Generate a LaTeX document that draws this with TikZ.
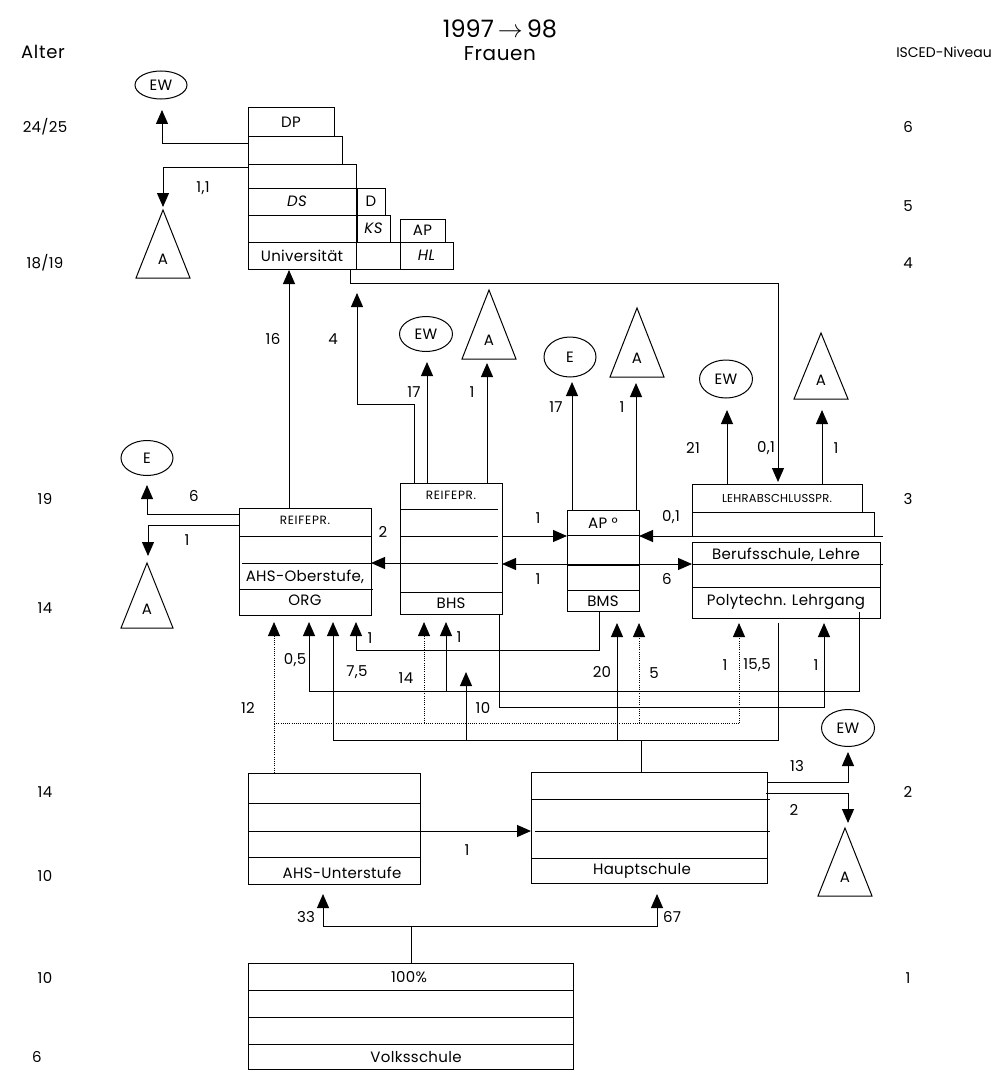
\documentclass[tikz,border=0pt]{standalone}
\usepackage{fontspec}
\setmainfont{Poppins}
\usetikzlibrary{arrows.meta,shapes.geometric}
\tikzset{
  ln/.style={line width=1pt},
  arr/.style={line width=1pt,-{Triangle[length=14pt,width=12pt]}},
  darr/.style={line width=1pt,{Triangle[length=14pt,width=12pt]}-{Triangle[length=14pt,width=12pt]}},
  dotl/.style={line width=0.9pt,dash pattern=on 1pt off 1.2pt},
  box/.style={draw,line width=1pt,rectangle,inner sep=0pt,outer sep=0pt},
  ell/.style={draw,ellipse,line width=1pt,inner sep=0pt},
  lbl/.style={font=\fontsize{15}{17}\selectfont\addfontfeature{LetterSpace=2},inner sep=0pt},
  small/.style={font=\fontsize{12}{13}\selectfont\addfontfeature{LetterSpace=6},inner sep=0pt},
}
\newcommand\mybox[5]{\node[box,anchor=north west,minimum width={(#4-#2)*1pt},minimum height={(#5-#3)*1pt}] (#1) at (#2,#3) {};}
\newcommand\mytri[5]{\draw[ln] (#2,#3) -- ({#2-#5},#4) -- ({#2+#5},#4) -- cycle; \node[lbl] (#1) at (#2,{#4-19}) {A};}
\begin{document}
\begin{tikzpicture}[x=1pt,y=-1pt]
\useasboundingbox (0,0) rectangle (993,1070);
% header
\node[font=\fontsize{18}{20}\selectfont\addfontfeature{LetterSpace=4},inner sep=0pt] (alter) at (43,52) {Alter};
\node[font=\fontsize{24}{27}\selectfont,inner sep=0pt] (t1) at (500,29) {1997\,$\rightarrow$\,98};
\node[font=\fontsize{20}{23}\selectfont\addfontfeature{LetterSpace=3},inner sep=0pt] (t2) at (500,54) {Frauen};
\node[font=\fontsize{14}{16}\selectfont,inner sep=0pt] (isced) at (944,52) {ISCED-Niveau};
% ages
\node[lbl] (a1) at (45,127) {24/25};
\node[lbl] (a2) at (45,263) {18/19};
\node[lbl] (a3) at (45,499) {19};
\node[lbl] (a4) at (45,608) {14};
\node[lbl] (a5) at (45,792) {14};
\node[lbl] (a6) at (45,876) {10};
\node[lbl] (a7) at (45,978) {10};
\node[lbl] (a8) at (37,1057) {6};
% isced
\node[lbl] (i6) at (908,127) {6};
\node[lbl] (i5) at (908,206) {5};
\node[lbl] (i4) at (908,263) {4};
\node[lbl] (i3) at (908,499) {3};
\node[lbl] (i2) at (908,792) {2};
\node[lbl] (i1) at (908,978) {1};
% university stack
\mybox{dp}{248}{108}{334}{136}
\node[lbl] at (dp) {DP};
\mybox{r2}{248}{136}{342}{164}
\mybox{r3}{248}{164}{356}{188}
\mybox{ds}{248}{188}{356}{215}
\node[lbl] at (297,201) {\itshape DS};
\mybox{dd}{357}{188}{385}{215}
\node[lbl] at (dd) {D};
\mybox{r5}{248}{215}{356}{242}
\mybox{ks}{357}{215}{390}{242}
\node[lbl] at (ks) {\itshape KS};
\mybox{ap}{400}{219}{445}{242}
\node[lbl] at (ap) {AP};
\mybox{uni}{248}{242}{356}{269}
\node[lbl] at (uni) {Universität};
\mybox{ub}{356}{242}{400}{269}
\mybox{hl}{400}{242}{453}{269}
\node[lbl] at (hl) {\itshape HL};
% top-left exits
\node[ell,lbl,minimum width=52pt,minimum height=28pt] (ew1) at (161,85) {EW};
\draw[arr] (248,143) -- (162,143) -- (162,110);
\mytri{ta1}{163}{210}{278}{27}
\draw[arr] (248,167) -- (163,167) -- (163,207);
\node[lbl] at (203,188) {1,1};
% uni -> lehrabschluss
\draw[arr] (350,269) -- (350,283) -- (778,283) -- (778,482);
\node[lbl] at (766,448) {0,1};
% AHS Oberstufe
\mybox{ahso}{239}{508}{371}{615}
\draw[ln] (239,536) -- (371,536);
\draw[ln] (242,563) -- (371,563);
\draw[ln] (239,589) -- (373,589);
\node[small] at (305,520) {REIFEPR.};
\node[lbl] at (305,577) {AHS-Oberstufe,};
\node[lbl] at (305,600) {ORG};
% BHS
\mybox{bhs}{400}{483}{502}{614}
\draw[ln] (400,509) -- (498,509);
\draw[ln] (400,536) -- (498,536);
\draw[ln] (400,563) -- (498,563);
\draw[ln] (400,592) -- (502,592);
\node[small] at (451,495) {REIFEPR.};
\node[lbl] at (451,603) {BHS};
% BMS
\mybox{bms}{567}{510}{639}{611}
\draw[ln] (567,535) -- (639,535);
\draw[ln] (567,565) -- (639,565);
\draw[ln] (567,590) -- (639,590);
\node[lbl] at (603,523) {AP °};
\node[lbl] at (603,601) {BMS};
% Lehrabschluss
\mybox{lap}{692}{484}{862}{512}
\node[font=\fontsize{11.5}{13}\selectfont\addfontfeature{LetterSpace=2},inner sep=0pt] at (777,498) {LEHRABSCHLUSSPR.};
\mybox{lap2}{692}{512}{874}{536}
% Berufsschule
\mybox{bs}{692}{542}{880}{618}
\draw[ln] (692,564) -- (883,564);
\draw[ln] (692,587) -- (880,587);
\node[lbl] at (786,555) {Berufsschule, Lehre};
\node[lbl] at (786,602) {Polytechn. Lehrgang};
% horizontal arrows
\draw[arr] (502,536) -- (567,536);
\node[lbl] at (538,518) {1};
\draw[darr] (502,564) -- (692,564);
\node[lbl] at (538,579) {1};
\node[lbl] at (667,579) {6};
\draw[arr] (400,563) -- (371,563);
\node[lbl] at (383,532) {2};
\draw[arr] (883,536) -- (639,536);
\node[lbl] at (671,517) {0,1};
% AHS-O exits
\draw[arr] (289,508) -- (289,270);
\node[lbl] at (273,339) {16};
\draw[arr] (414,483) -- (414,404) -- (357,404) -- (357,293);
\node[lbl] at (333,339) {4};
\node[ell,lbl,minimum width=52pt,minimum height=35pt] (e1) at (147,458) {E};
\draw[arr] (239,514) -- (147,514) -- (147,485);
\node[lbl] at (194,496) {6};
\mytri{ta2}{147}{563}{628}{26}
\draw[arr] (239,525) -- (148,525) -- (148,556);
\node[lbl] at (187,540) {1};
% BHS exits
\node[ell,lbl,minimum width=53pt,minimum height=35pt] (ew2) at (426,334) {EW};
\draw[arr] (427,483) -- (427,362);
\node[lbl] at (414,392) {17};
\mytri{ta3}{489}{290}{359}{27}
\draw[arr] (487,483) -- (487,363);
\node[lbl] at (472,392) {1};
% BMS exits
\node[ell,lbl,minimum width=52pt,minimum height=40pt] (e2) at (570,357) {E};
\draw[arr] (572,510) -- (572,382);
\node[lbl] at (556,407) {17};
\mytri{ta4}{637}{308}{377}{27}
\draw[arr] (636,510) -- (636,383);
\node[lbl] at (622,407) {1};
% Lehre exits
\node[ell,lbl,minimum width=53pt,minimum height=38pt] (ew3) at (726,379) {EW};
\draw[arr] (727,484) -- (727,410);
\node[lbl] at (693,448) {21};
\mytri{ta5}{821}{333}{399}{27}
\draw[arr] (822,484) -- (822,410);
\node[lbl] at (836,448) {1};
% lower connectors
\draw[dotl] (274,773) -- (274,630);
\draw[arr,dotl] (274,635) -- (274,622);
\draw[dotl] (274,723) -- (739,723);
\draw[dotl] (424,723) -- (424,630);
\draw[arr,dotl] (424,635) -- (424,622);
\draw[dotl] (639,723) -- (639,630);
\draw[arr,dotl] (639,635) -- (639,623);
\draw[dotl] (739,723) -- (739,630);
\draw[arr,dotl] (739,635) -- (739,623);
\node[lbl] at (248,708) {12};
\node[lbl] at (406,678) {14};
\node[lbl] at (654,673) {5};
\node[lbl] at (725,665) {1};
\draw[arr] (859,612) -- (859,691) -- (309,691) -- (309,622);
\draw[arr] (446,691) -- (446,622);
\node[lbl] at (295,660) {0,5};
\node[lbl] at (459,637) {1};
\draw[ln] (641,773) -- (641,740);
\draw[arr] (778,623) -- (778,740) -- (333,740) -- (333,622);
\draw[arr] (617,740) -- (617,623);
\draw[arr] (466,740) -- (466,672);
\node[lbl] at (357,672) {7,5};
\node[lbl] at (602,672) {20};
\node[lbl] at (757,665) {15,5};
\draw[arr] (599,611) -- (599,650) -- (356,650) -- (356,622);
\node[lbl] at (370,638) {1};
\draw[arr] (499,614) -- (499,707) -- (824,707) -- (824,623);
\node[lbl] at (483,708) {10};
\node[lbl] at (816,665) {1};
% Hauptschule
\mybox{hs}{531}{772}{767}{883}
\draw[ln] (531,799) -- (770,799);
\draw[ln] (535,831) -- (770,831);
\draw[ln] (531,858) -- (767,858);
\node[lbl] at (642,871) {Hauptschule};
\node[ell,lbl,minimum width=53pt,minimum height=37pt] (ew4) at (848,728) {EW};
\draw[arr] (767,782) -- (848,782) -- (848,752);
\node[lbl] at (797,766) {13};
\mytri{ta6}{845}{828}{896}{27}
\draw[arr] (766,793) -- (848,793) -- (848,823);
\node[lbl] at (794,810) {2};
% AHS Unterstufe
\mybox{ahsu}{248}{773}{420}{884}
\draw[ln] (248,803) -- (420,803);
\draw[ln] (248,831) -- (420,831);
\draw[ln] (248,857) -- (420,857);
\node[lbl] at (342,873) {AHS-Unterstufe};
\draw[arr] (420,831) -- (531,831);
\node[lbl] at (467,850) {1};
% Volksschule
\mybox{vs}{248}{963}{573}{1069}
\draw[ln] (248,990) -- (573,990);
\draw[ln] (248,1017) -- (573,1017);
\draw[ln] (248,1044) -- (573,1044);
\node[lbl] at (409,977) {100\%};
\node[lbl] at (416,1057) {Volksschule};
\draw[ln] (411,963) -- (411,926);
\draw[arr] (411,926) -- (323,926) -- (323,894);
\draw[arr] (411,926) -- (657,926) -- (657,894);
\node[lbl] at (306,917) {33};
\node[lbl] at (672,917) {67};
\end{tikzpicture}
\end{document}
